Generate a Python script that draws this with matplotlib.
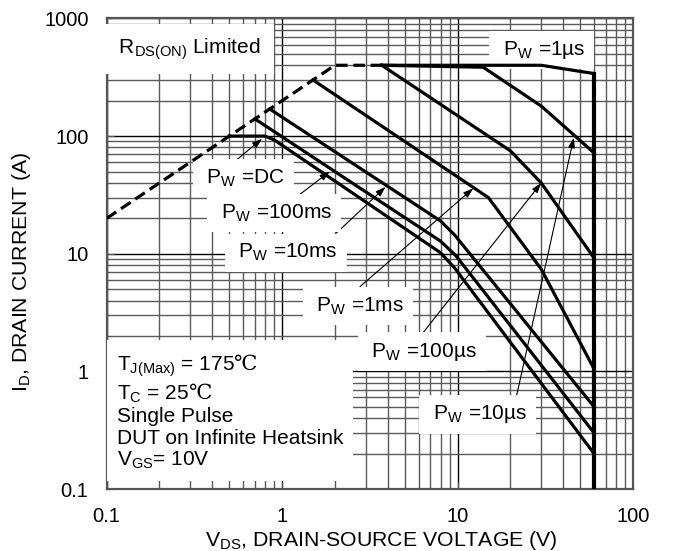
import matplotlib
matplotlib.use("Agg")
import matplotlib.pyplot as plt
from matplotlib.ticker import FixedLocator, FixedFormatter, LogLocator, NullFormatter

plt.rcParams['font.family'] = ['Liberation Sans', 'DejaVu Sans']
plt.rcParams['mathtext.fontset'] = 'custom'
plt.rcParams['mathtext.rm'] = 'Liberation Sans'
plt.rcParams['mathtext.it'] = 'Liberation Sans:italic'
plt.rcParams['mathtext.bf'] = 'Liberation Sans:bold'
plt.rcParams['mathtext.sf'] = 'DejaVu Serif'

# axis ticks
x_ticks = [0.1, 1, 10, 100]
x_tick_labels = ["0.1", "1", "10", "100"]
y_ticks = [0.1, 1, 10, 100, 1000]
y_tick_labels = ["0.1", "1", "10", "100", "1000"]

# R_DS(on) limit (dashed)
rds_v = [0.1, 2.0, 3.7]
rds_i = [20, 400, 400]

# max drain-source voltage
v_max = 60

# safe operating area curves, V_DS (V) vs I_D (A)
v_1us = [3.7, 30, 60]
i_1us = [400, 400, 340]
v_10us = [3.7, 14, 30, 60]
i_10us = [400, 385, 180, 72]
v_100us = [3.7, 20, 30, 60]
i_100us = [400, 75, 40, 9.2]
v_1ms = [1.5, 12, 15, 30, 60]
i_1ms = [300, 37.5, 30, 7.4, 1.05]
v_10ms = [0.85, 8, 9.6, 60]
i_10ms = [170, 19, 14.5, 0.5]
v_100ms = [0.7, 8, 9.8, 60]
i_100ms = [140, 12.8, 9.6, 0.3]
v_dc = [0.5, 0.8, 0.9, 8, 9.6, 60]
i_dc = [100, 100, 93, 10.2, 7.6, 0.2]

FS = 15

fig = plt.figure(figsize=(6.73, 5.51), dpi=100)
ax = fig.add_axes([0.1585, 0.1125, 0.782, 0.854])
ax.set_xscale('log')
ax.set_yscale('log')
ax.set_xlim(0.1, 100)
ax.set_ylim(0.1, 1000)

ax.xaxis.set_major_locator(FixedLocator(x_ticks))
ax.xaxis.set_major_formatter(FixedFormatter(x_tick_labels))
ax.yaxis.set_major_locator(FixedLocator(y_ticks))
ax.yaxis.set_major_formatter(FixedFormatter(y_tick_labels))
for a in (ax.xaxis, ax.yaxis):
    a.set_minor_locator(LogLocator(base=10, subs=range(2, 10)))
    a.set_minor_formatter(NullFormatter())

ax.grid(which='major', color='black', lw=1.0)
ax.grid(which='minor', color='#5a5a5a', lw=1.0)
ax.tick_params(which='both', direction='in', color='#555555', labelsize=14.5, pad=13)
ax.tick_params(which='major', length=5)
ax.tick_params(which='minor', length=3)
for s in ax.spines.values():
    s.set_color('#555555')
    s.set_linewidth(1.6)

ax.plot(rds_v, rds_i, color='black', lw=2.3, dashes=(3.6, 1.8), zorder=4)
curves = [(v_1us, i_1us), (v_10us, i_10us), (v_100us, i_100us), (v_1ms, i_1ms),
          (v_10ms, i_10ms), (v_100ms, i_100ms), (v_dc, i_dc)]
for v, i in curves:
    ax.plot(v, i, color='black', lw=2.3, solid_joinstyle='miter', zorder=4)
ax.plot([v_max, v_max], [i_1us[-1], ax.get_ylim()[0]], color='black', lw=3.0, zorder=4)

# arrows: (tail, head)
arrows = [((0.53, 60), (0.77, 95)),
          ((1.23, 31), (1.87, 50)),
          ((2.04, 15), (3.89, 37)),
          ((2.78, 5.25), (12.3, 36)),
          ((6.28, 2.08), (30, 40)),
          ((21.6, 0.60), (46, 97))]
for tail, head in arrows:
    ax.annotate('', xy=head, xytext=tail,
                arrowprops=dict(arrowstyle='-|>,head_length=0.6,head_width=0.2',
                                color='black', lw=0.8, mutation_scale=10,
                                shrinkA=0, shrinkB=0))

box = dict(boxstyle='square,pad=0.4', fc='white', ec='none')
labels = [(" P$_\\mathrm{W}$ =1µs ", 30.3, 540),
          (" P$_\\mathrm{W}$ =DC ", 0.60, 44),
          (" P$_\\mathrm{W}$ =100ms ", 0.90, 22),
          (" P$_\\mathrm{W}$ =10ms ", 1.05, 10.2),
          (" P$_\\mathrm{W}$ =1ms ", 2.70, 3.6),
          (" P$_\\mathrm{W}$ =100µs ", 6.28, 1.47),
          (" P$_\\mathrm{W}$ =10µs ", 13.0, 0.43)]
for txt, x, y in labels:
    ax.text(x, y, txt, ha='center', va='center', fontsize=FS, bbox=box, zorder=3)

ax.text(0.012, 0.962, " R$_\\mathrm{DS(ON)}$ Limited ", transform=ax.transAxes,
        ha='left', va='top', fontsize=FS,
        bbox=dict(boxstyle='square,pad=0.6', fc='white', ec='none'), zorder=3)

cond = ("T$_\\mathrm{J(Max)}$ = 175$\\mathsf{℃}$\n"
        "T$_\\mathrm{C}$ = 25$\\mathsf{℃}$\n"
        "Single Pulse\n"
        "DUT on Infinite Heatsink\n"
        "V$_\\mathrm{GS}$= 10V")
ax.text(0.019, 0.29, cond, transform=ax.transAxes, ha='left', va='top',
        fontsize=FS, linespacing=1.15,
        bbox=dict(boxstyle='square,pad=0.45', fc='white', ec='none'), zorder=3)

ax.set_xlabel("V$_\\mathrm{DS}$, DRAIN-SOURCE VOLTAGE (V)", fontsize=15.3)
ax.set_ylabel("I$_\\mathrm{D}$, DRAIN CURRENT (A)", fontsize=15.3)
ax.xaxis.set_label_coords(0.521, -0.085)
ax.yaxis.set_label_coords(-0.14, 0.461)

fig.savefig('out.png', dpi=100)
